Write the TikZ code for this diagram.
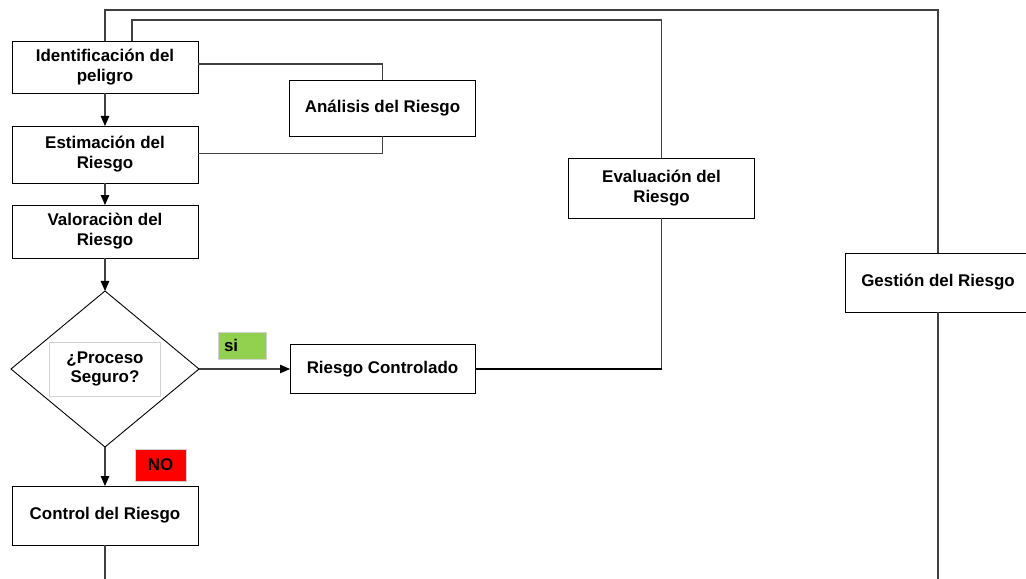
\documentclass[tikz,border=0pt]{standalone}
\usepackage{fontspec}
\setmainfont{Liberation Sans}
\usetikzlibrary{arrows.meta,positioning,shapes.geometric}
\definecolor{linea}{HTML}{404040}
\definecolor{verde}{HTML}{92D050}
\definecolor{rojo}{HTML}{FF0000}

\begin{document}
\begin{tikzpicture}[
  x=1bp,y=-1bp,>={Triangle[length=10bp,width=8.5bp,color=black]},
  every node/.append style={font=\bfseries\fontsize{17}{20}\selectfont},
  paso/.style={draw=black, line width=0.9bp, fill=white, align=center, minimum width=186bp, inner sep=2bp, outer sep=0pt},
  rombo/.style={draw=black, line width=0.9bp, diamond, minimum width=188bp, minimum height=156bp, inner sep=0pt, outer sep=0pt},
  marca/.style={draw=gray!35, line width=1bp, inner sep=2bp},
  conector/.style={draw=linea, line width=1.1bp},
]
\useasboundingbox (0,0) rectangle (1026,579);
% columna izquierda
\node[paso, minimum height=52bp] (ident) at (105,67) {Identificación del\\peligro};
\node[paso, minimum height=57bp, below=33bp of ident] (estim) {Estimación del\\Riesgo};
\node[paso, minimum height=53bp, below=22bp of estim] (valor) {Valoraciòn del\\Riesgo};
\node[rombo, below=33bp of valor] (seguro) {};
\node[marca, minimum width=110bp, minimum height=54bp, align=center] (pregunta) at (seguro) {¿Proceso\\Seguro?};
\node[paso, minimum height=59bp, below=39bp of seguro] (control) {Control del Riesgo};
% cajas de la derecha
\node[paso, minimum height=56bp] (anal) at (382.5,108) {Análisis del Riesgo};
\node[paso, minimum height=49bp, minimum width=185bp, right=91bp of seguro] (ctrl) {Riesgo Controlado};
\node[paso, minimum height=60bp] (eval) at (661.5,188) {Evaluación del\\Riesgo};
\node[paso, minimum height=59bp, minimum width=186bp] (gestion) at (938,282.5) {Gestión del Riesgo};
% etiquetas si / NO
\node[marca, fill=verde, minimum height=27bp, text width=36bp, inner sep=6bp, align=left] (si) at (242,345.5) {si};
\node[marca, fill=rojo, minimum height=32bp, minimum width=51bp] (no) at (160.5,465) {NO};
% extremos sueltos
\coordinate (finizq) at (105,579);
\coordinate (finder) at (938,579);
\coordinate (salida1) at ([yshift=3bp]ident.east);
\coordinate (salida2) at ([yshift=1bp]estim.east);
% flechas
\draw[conector, ->] (ident) -- (estim);
\draw[conector, ->] (estim) -- (valor);
\draw[conector, ->] (valor) -- (seguro);
\draw[conector, ->] (seguro.east) -- (seguro.east -| ctrl.west);
\draw[conector, ->] (seguro) -- (control);
\draw[conector, line width=1.6bp] (control) -- (finizq);
% analisis
\draw[conector] (salida1) -- (anal.north |- salida1) -- (anal.north);
\draw[conector] (salida2) -- (anal.south |- salida2) -- (anal.south);
% lazos superiores
\draw[conector] (ident.north) -- ++(0,-31) -| (gestion.north);
\draw[conector] ([xshift=27bp]ident.north) -- ++(0,-21) -| (eval.north);
\draw[conector] (eval.south) -- (eval.south |- ctrl.east);
\draw[draw=black, line width=2.5bp] (eval.south |- ctrl.east) -- (ctrl.east);
\draw[conector] (gestion) -- (finder);
\end{tikzpicture}
\end{document}
